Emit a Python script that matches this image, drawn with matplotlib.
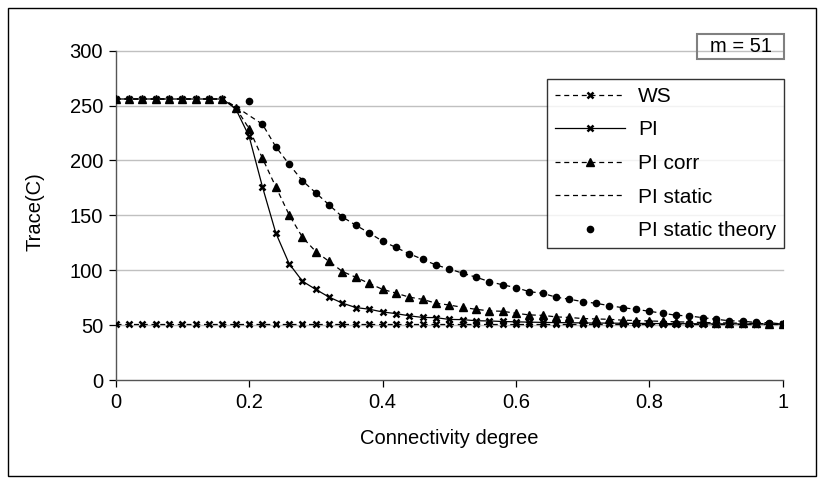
import matplotlib
matplotlib.use("Agg")
import matplotlib.pyplot as plt
from matplotlib.patches import Rectangle

plt.rcParams['font.family'] = ['Liberation Sans', 'DejaVu Sans']

# connectivity degree (x)
conn = [0.00, 0.02, 0.04, 0.06, 0.08, 0.10, 0.12, 0.14, 0.16, 0.18,
        0.20, 0.22, 0.24, 0.26, 0.28, 0.30, 0.32, 0.34, 0.36, 0.38,
        0.40, 0.42, 0.44, 0.46, 0.48, 0.50, 0.52, 0.54, 0.56, 0.58,
        0.60, 0.62, 0.64, 0.66, 0.68, 0.70, 0.72, 0.74, 0.76, 0.78,
        0.80, 0.82, 0.84, 0.86, 0.88, 0.90, 0.92, 0.94, 0.96, 0.98, 1.00]

ws = [51] * 51

pi = [256, 256, 256, 256, 256, 256, 256, 256, 256, 247,
      222, 176, 134, 106, 90, 82.5, 75.5, 70, 66, 64.5,
      62, 60.5, 58.5, 57, 56.8, 55.2, 55, 54, 53.8, 53.3,
      53, 52.7, 52.5, 52.3, 52.2, 52, 51.9, 51.8, 51.7, 51.6,
      51.5, 51.4, 51.3, 51.3, 51.2, 51.2, 51.1, 51.1, 51.0, 51.0, 51.0]

pi_corr = [256, 256, 256, 256, 256, 256, 256, 256, 256, 248,
           229, 202, 176, 150.5, 130, 117, 108, 98.8, 93.6, 88,
           82.6, 79.2, 75.5, 73.5, 70, 68.3, 66.2, 64.4, 63, 62.6,
           60.8, 59.3, 58.9, 57.5, 57, 56, 55.6, 55.3, 54.5, 54.2,
           53.8, 53.4, 53, 52.7, 52.4, 52.1, 51.9, 51.7, 51.5, 51.2, 51]

# theory points only from 0.2 onwards
theory_x = conn[10:]
theory = [254.5, 233, 212.5, 196.5, 181.5, 170.5, 159.5, 148.5, 141, 134,
          126.5, 120.8, 115, 110, 104.8, 101.2, 97.3, 93.7, 89.7, 86.7,
          84.2, 80.5, 79, 75.5, 73.6, 71.4, 69.9, 67.7, 65.9, 64.4,
          62.6, 60.8, 59, 58.3, 56.8, 55.3, 54, 53.6, 52.4, 52.2, 51]

static_head = [256, 256, 256, 256, 256, 256, 256, 256, 256, 249, 241]
pi_static = static_head + theory[1:]

W, H = 824, 484
fig = plt.figure(figsize=(W / 100, H / 100), dpi=100)
ax = fig.add_axes([115.7 / W, 1 - 380 / H, 667 / W, 329.3 / H])

fs = 14.5
dash = (4, 3)

ax.plot(conn, ws, color='black', lw=0.9, dashes=dash, marker='x', ms=5, mew=1.8,
        label='WS', zorder=3)
ax.plot(conn, pi, color='black', lw=0.9, marker='x', ms=5, mew=1.8,
        label='PI', zorder=3)
ax.plot(conn, pi_corr, color='black', lw=0.9, dashes=dash, marker='^', ms=5.5,
        label='PI corr', zorder=3)
ax.plot(conn, pi_static, color='black', lw=0.9, dashes=dash,
        label='PI static', zorder=3)
ax.plot(theory_x, theory, color='black', ls='none', marker='o', ms=4.5,
        label='PI static theory', zorder=4)

ax.set_xlim(0, 1)
ax.set_ylim(0, 300)
ax.set_xticks([0, 0.2, 0.4, 0.6, 0.8, 1])
ax.set_xticklabels(['0', '0.2', '0.4', '0.6', '0.8', '1'])
ax.set_yticks([0, 50, 100, 150, 200, 250, 300])
ax.tick_params(axis='both', direction='out', length=5, width=0.9, labelsize=fs,
               colors='black', pad=4)

for y in [50, 100, 150, 200, 250, 300]:
    ax.axhline(y, color='#c0c0c0', lw=1, zorder=1, clip_on=False)

for s in ['top', 'right']:
    ax.spines[s].set_visible(False)
for s in ['left', 'bottom']:
    ax.spines[s].set_color('#555555')
    ax.spines[s].set_linewidth(1)

fig.text(35 / W, 1 - 212 / H, 'Trace(C)', rotation=90, ha='center', va='center', fontsize=fs)
fig.text(449 / W, 1 - 438 / H, 'Connectivity degree', ha='center', va='center', fontsize=fs)

leg = ax.legend(loc='upper right', bbox_to_anchor=(784 / W, 1 - 79 / H),
                bbox_transform=fig.transFigure, fontsize=15, frameon=True,
                fancybox=False, handlelength=3.4, handletextpad=0.6,
                labelspacing=0.7, borderpad=0.38, borderaxespad=0)
leg.get_frame().set_edgecolor('black')
leg.get_frame().set_linewidth(1)

# "m = 51" box
fig.patches.append(Rectangle((697 / W, 1 - 59 / H), 87 / W, 25 / H, transform=fig.transFigure,
                             fill=False, edgecolor='#808080', lw=1.5))
fig.text(740.5 / W, 1 - 46.5 / H, 'm = 51', ha='center', va='center', fontsize=fs)

# chart border
fig.patches.append(Rectangle((8 / W, 8 / H), (W - 16) / W, (H - 16) / H, transform=fig.transFigure,
                             fill=False, edgecolor='black', lw=1))

fig.savefig('out.png', dpi=100)
